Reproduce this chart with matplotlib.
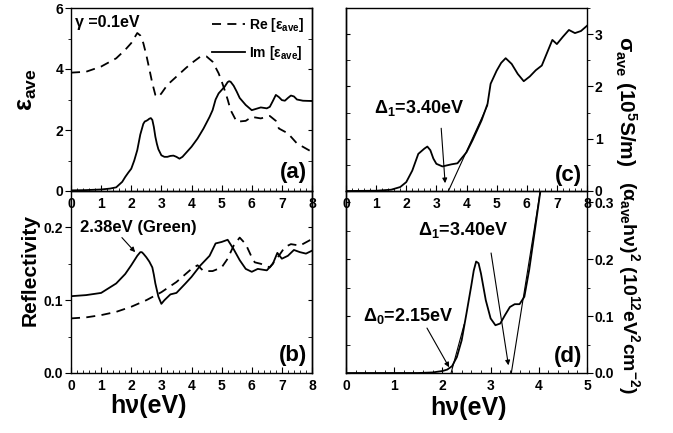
import numpy as np
import matplotlib
matplotlib.use('Agg')
import matplotlib.pyplot as plt
from matplotlib.ticker import MultipleLocator, FormatStrFormatter

plt.rcParams['font.family'] = ['Liberation Sans', 'DejaVu Sans']
plt.rcParams['font.weight'] = 'bold'
plt.rcParams['mathtext.fontset'] = 'custom'
plt.rcParams['mathtext.rm'] = 'Liberation Sans:bold'
plt.rcParams['mathtext.it'] = 'Liberation Sans:italic:bold'
plt.rcParams['mathtext.bf'] = 'Liberation Sans:bold'
plt.rcParams['mathtext.default'] = 'rm'

# (a) dielectric function
im_x = [0, 0.5, 1.0, 1.3, 1.5, 1.7, 1.8, 1.9, 2.0, 2.1, 2.2, 2.3, 2.4, 2.45, 2.5, 2.55,
        2.6, 2.65, 2.7, 2.75, 2.8, 2.85, 2.9, 3.0, 3.1, 3.2, 3.3, 3.4, 3.5, 3.6, 3.7,
        3.8, 4.0, 4.2, 4.4, 4.6, 4.7, 4.8, 4.9, 5.0, 5.1, 5.2, 5.25, 5.3, 5.4, 5.5, 5.6,
        5.8, 6.0, 6.2, 6.3, 6.5, 6.6, 6.7, 6.8, 6.9, 7.0, 7.1, 7.2, 7.3, 7.4, 7.5, 7.7,
        8.0]
im_y = [0.02, 0.03, 0.05, 0.08, 0.12, 0.3, 0.46, 0.6, 0.73, 1.0, 1.34, 1.85, 2.2, 2.28,
        2.3, 2.33, 2.37, 2.39, 2.33, 2.1, 1.78, 1.55, 1.37, 1.17, 1.12, 1.12, 1.15, 1.16,
        1.12, 1.06, 1.12, 1.23, 1.45, 1.72, 2.05, 2.43, 2.65, 3.0, 3.2, 3.31, 3.42, 3.57,
        3.6, 3.58, 3.45, 3.26, 3.05, 2.82, 2.65, 2.71, 2.74, 2.71, 2.76, 2.95, 3.15, 3.08,
        2.98, 2.96, 3.05, 3.13, 3.1, 3.0, 2.96, 2.95]
re_x = [0, 0.5, 1.0, 1.5, 1.8, 2.0, 2.2, 2.3, 2.4, 2.5, 2.6, 2.7, 2.8, 2.9, 3.0, 3.2,
        3.5, 3.8, 4.0, 4.3, 4.5, 4.7, 4.8, 4.9, 5.0, 5.1, 5.2, 5.3, 5.5, 5.8, 6.0, 6.3,
        6.6, 6.8, 6.9, 7.2, 7.5, 8.0]
re_y = [3.88, 3.91, 4.08, 4.35, 4.63, 4.85, 5.18, 5.1, 4.85, 4.46, 4.0, 3.53, 3.15,
        3.08, 3.2, 3.48, 3.75, 4.02, 4.19, 4.41, 4.41, 4.24, 4.05, 3.86, 3.6, 3.31, 3.0,
        2.65, 2.27, 2.3, 2.43, 2.38, 2.46, 2.3, 2.05, 1.89, 1.56, 1.28]

# (b) reflectivity
rs_x = [0, 0.5, 1.0, 1.5, 1.8, 2.0, 2.2, 2.3, 2.35, 2.4, 2.5, 2.6, 2.7, 2.75, 2.8, 2.9,
        3.0, 3.1, 3.3, 3.5, 3.8, 4.0, 4.3, 4.6, 4.8, 5.0, 5.2, 5.4, 5.6, 5.8, 6.0, 6.2,
        6.5, 6.7, 6.85, 7.0, 7.2, 7.4, 7.6, 7.8, 8.0]
rs_y = [0.1055, 0.107, 0.110, 0.123, 0.136, 0.148, 0.161, 0.166, 0.166, 0.164, 0.159,
        0.153, 0.145, 0.135, 0.123, 0.105, 0.095, 0.100, 0.108, 0.110, 0.123, 0.132,
        0.148, 0.161, 0.178, 0.180, 0.183, 0.170, 0.155, 0.143, 0.139, 0.143, 0.141,
        0.150, 0.165, 0.157, 0.161, 0.169, 0.166, 0.164, 0.168]
rd_x = [0, 0.5, 1.0, 1.5, 2.0, 2.5, 3.0, 3.5, 4.0, 4.2, 4.4, 4.7, 5.0, 5.2, 5.4, 5.6,
        5.8, 6.0, 6.1, 6.3, 6.6, 6.9, 7.1, 7.3, 7.6, 8.0]
rd_y = [0.075, 0.0764, 0.0795, 0.084, 0.091, 0.100, 0.111, 0.125, 0.143, 0.148, 0.140,
        0.140, 0.145, 0.157, 0.175, 0.186, 0.177, 0.159, 0.152, 0.150, 0.145, 0.161,
        0.173, 0.177, 0.175, 0.184]

# (c) conductivity
sg_x = [0, 1.0, 1.5, 1.8, 2.0, 2.2, 2.4, 2.5, 2.6, 2.7, 2.8, 2.9, 3.0, 3.2, 3.5, 3.7,
        4.0, 4.2, 4.5, 4.7, 4.8, 5.0, 5.15, 5.3, 5.5, 5.7, 5.9, 6.1, 6.3, 6.5, 6.7, 6.85,
        7.0, 7.2, 7.4, 7.6, 7.8, 8.0]
sg_y = [0, 0.005, 0.025, 0.076, 0.17, 0.39, 0.71, 0.76, 0.81, 0.85, 0.78, 0.62, 0.52,
        0.47, 0.51, 0.53, 0.74, 0.97, 1.35, 1.67, 2.05, 2.30, 2.45, 2.54, 2.43, 2.24,
        2.10, 2.19, 2.31, 2.40, 2.68, 2.89, 2.81, 2.95, 3.08, 3.02, 3.06, 3.16]
fit_c_x = [3.4, 4.7]
fit_c_y = [0, 1.64]

# (d) absorption
ab_x = [0, 1.5, 1.8, 2.0, 2.1, 2.2, 2.3, 2.4, 2.5, 2.6, 2.65, 2.7, 2.75, 2.8, 2.9, 3.0,
        3.1, 3.2, 3.3, 3.4, 3.5, 3.6, 3.7, 3.8, 3.9, 4.0, 4.05]
ab_y = [0, 0, 0.001, 0.0035, 0.006, 0.012, 0.028, 0.0575, 0.105, 0.154, 0.18, 0.196,
        0.193, 0.175, 0.128, 0.096, 0.084, 0.087, 0.102, 0.116, 0.121, 0.121, 0.134,
        0.181, 0.24, 0.30, 0.33]
fit_d0_x = [2.18, 2.45]
fit_d0_y = [0, 0.085]
fit_d1_x = [3.43, 4.05]
fit_d1_y = [0, 0.33]

W, H = 673, 433
fig = plt.figure(figsize=(W / 100, H / 100), dpi=100)


def px_axes(x0, y0, x1, y1):
    return fig.add_axes([x0 / W, 1 - y1 / H, (x1 - x0) / W, (y1 - y0) / H])


TICK_FS = 10
DASH = (0, (5, 3.5))
LINE = dict(color='black', lw=1.3, solid_joinstyle='round')


def style(ax, side, xmax, ymaj, ymin):
    for s in ax.spines.values():
        s.set_linewidth(1.0)
    ax.patch.set_alpha(0)
    ax.set_xlim(0, xmax)
    ax.xaxis.set_major_locator(MultipleLocator(1))
    ax.xaxis.set_minor_locator(MultipleLocator(0.2))
    ax.tick_params(axis='x', which='both', direction='in', top=False,
                   labelsize=TICK_FS, pad=4.5)
    ax.tick_params(axis='x', which='major', length=4)
    ax.tick_params(axis='x', which='minor', length=2)
    ax.yaxis.set_major_locator(MultipleLocator(ymaj))
    ax.yaxis.set_minor_locator(MultipleLocator(ymin))
    if side == 'left':
        ax.tick_params(axis='y', which='both', direction='out', left=True, right=False,
                       labelsize=TICK_FS, pad=1.5)
    else:
        ax.yaxis.tick_right()
        ax.tick_params(axis='y', which='both', direction='out', left=False, right=True,
                       labelright=True, labelleft=False, labelsize=TICK_FS, pad=1.5)
    ax.tick_params(axis='y', which='major', length=4)
    ax.tick_params(axis='y', which='minor', length=2)
    other = 'right' if side == 'left' else 'left'
    sec = ax.secondary_yaxis(other)
    sec.yaxis.set_major_locator(MultipleLocator(ymaj))
    sec.yaxis.set_minor_locator(MultipleLocator(ymin))
    sec.tick_params(axis='y', which='both', direction='in', labelleft=False,
                    labelright=False, length=3)
    sec.spines[other].set_linewidth(1.0)
    for lab in ax.get_xticklabels() + ax.get_yticklabels():
        lab.set_fontweight('bold')


def arrow(ax, head, tail):
    ax.annotate('', xy=head, xytext=tail,
                arrowprops=dict(arrowstyle='-|>', color='black', lw=0.8,
                                mutation_scale=7, shrinkA=0, shrinkB=0))


# panel (a)
ax_a = px_axes(71, 8, 312, 191)
ax_a.plot(re_x, re_y, ls=DASH, label='Re [ε$_{ave}$]', **LINE)
ax_a.plot(im_x, im_y, label='Im [ε$_{ave}$]', **LINE)
ax_a.set_ylim(0, 6)
style(ax_a, 'left', 8, 2, 1)
ax_a.text(0.13, 5.78, 'γ =0.1eV', fontsize=11.5, fontweight='bold', va='top', ha='left')
ax_a.legend(loc='upper right', frameon=False, fontsize=10, handlelength=2.4,
            handletextpad=0.3, borderaxespad=0.15, labelspacing=0.75)
ax_a.text(7.85, 0.25, '(a)', fontsize=16, fontweight='bold', ha='right', va='bottom')

# panel (b)
ax_b = px_axes(71, 191, 312, 373)
ax_b.plot(rd_x, rd_y, ls=DASH, **LINE)
ax_b.plot(rs_x, rs_y, **LINE)
ax_b.set_ylim(0, 0.25)
style(ax_b, 'left', 8, 0.1, 0.05)
ax_b.yaxis.set_major_formatter(FormatStrFormatter('%.1f'))
ax_b.text(2.23, 0.2, '2.38eV (Green)', fontsize=12, fontweight='bold',
          ha='center', va='center')
arrow(ax_b, (2.13, 0.166), (1.69, 0.186))
ax_b.text(7.85, 0.01, '(b)', fontsize=16, fontweight='bold', ha='right', va='bottom')

# panel (c)
ax_c = px_axes(346, 8, 587, 191)
ax_c.plot(sg_x, sg_y, **LINE)
ax_c.plot(fit_c_x, fit_c_y, color='black', lw=0.8)
ax_c.set_ylim(0, 3.5)
style(ax_c, 'right', 8, 1, 0.5)
arrow(ax_c, (3.29, 0.15), (3.16, 1.2))
ax_c.text(2.43, 1.58, 'Δ$_1$=3.40eV', fontsize=13, fontweight='bold',
          ha='center', va='center')
ax_c.text(7.85, 0.1, '(c)', fontsize=16, fontweight='bold', ha='right', va='bottom')

# panel (d)
ax_d = px_axes(346, 191, 587, 373)
ax_d.plot(ab_x, ab_y, **LINE)
ax_d.plot(fit_d0_x, fit_d0_y, color='black', lw=0.8)
ax_d.plot(fit_d1_x, fit_d1_y, color='black', lw=0.8)
ax_d.set_ylim(0, 0.32)
style(ax_d, 'right', 5, 0.1, 0.05)
ax_d.yaxis.set_major_formatter(FormatStrFormatter('%.1f'))
arrow(ax_d, (2.14, 0.01), (1.68, 0.079))
arrow(ax_d, (3.37, 0.0136), (3.01, 0.211))
ax_d.text(1.29, 0.1, 'Δ$_0$=2.15eV', fontsize=13, fontweight='bold',
          ha='center', va='center')
ax_d.text(2.43, 0.251, 'Δ$_1$=3.40eV', fontsize=13, fontweight='bold',
          ha='center', va='center')
ax_d.text(4.9, 0.01, '(d)', fontsize=16, fontweight='bold', ha='right', va='bottom')

# axis titles
fig.text(27 / W, 1 - 90 / H, 'ε$_{ave}$', fontsize=18, fontweight='bold',
         rotation=90, ha='center', va='center')
fig.text(30 / W, 1 - 270 / H, 'Reflectivity', fontsize=15, fontweight='bold',
         rotation=90, ha='center', va='center')
fig.text(148 / W, 1 - 406 / H, 'hν(eV)', fontsize=18, fontweight='bold',
         ha='center', va='center')
fig.text(468 / W, 1 - 408 / H, 'hν(eV)', fontsize=18, fontweight='bold',
         ha='center', va='center')
fig.text(626 / W, 1 - 101 / H, 'σ$_{ave}$ (10$^5$S/m)', fontsize=15,
         fontweight='bold', rotation=270, ha='center', va='center')
fig.text(629 / W, 1 - 287 / H, '(α$_{ave}$hν)$^2$ (10$^{12}$eV$^2$cm$^{-2}$)',
         fontsize=14, fontweight='bold', rotation=270, ha='center', va='center')

fig.savefig('out.png', dpi=100)
